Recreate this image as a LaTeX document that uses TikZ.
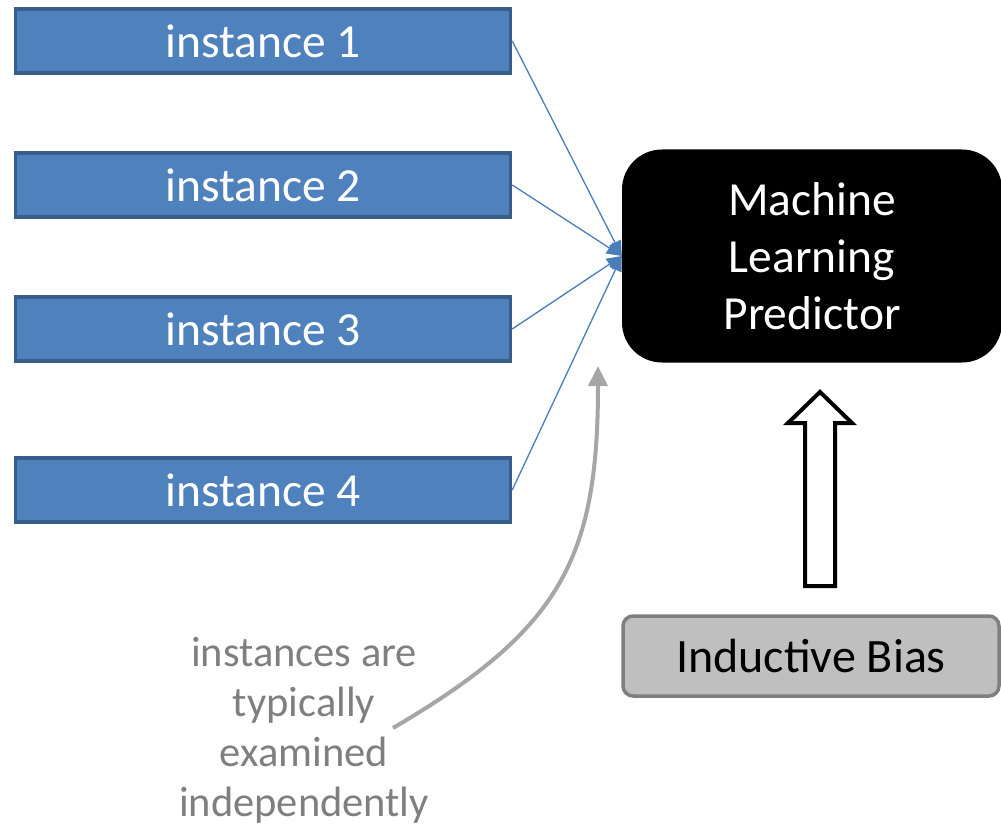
\documentclass[tikz,border=0pt]{standalone}
\usepackage{fontspec}
\setmainfont{Carlito}
\usetikzlibrary{arrows.meta}
\definecolor{instfill}{RGB}{79,129,189}
\definecolor{instline}{RGB}{56,93,138}
\definecolor{linkblue}{RGB}{74,126,187}
\definecolor{biasfill}{RGB}{191,191,191}
\definecolor{biasline}{RGB}{127,127,127}
\definecolor{notegray}{RGB}{127,127,127}
\definecolor{curvegray}{RGB}{166,166,166}
\tikzset{
  instbox/.style={draw=instline, fill=instfill, line width=3.5pt, minimum width=495pt, minimum height=64pt, inner sep=0pt, text=white, font=\fontsize{47.5}{57}\selectfont},
  predbox/.style={fill=black, rounded corners=40pt, minimum width=380pt, minimum height=213pt, inner sep=0pt, text=white, align=center, font=\fontsize{47.5}{57}\selectfont},
  biasbox/.style={draw=biasline, fill=biasfill, line width=3.5pt, rounded corners=10pt, minimum width=376pt, minimum height=80pt, inner sep=0pt, font=\fontsize{48}{57}\selectfont},
  link/.style={draw=linkblue, line width=1.3pt, -{Triangle[length=15pt,width=13pt]}},
}
\begin{document}
\begin{tikzpicture}[x=1pt,y=-1pt]
		\useasboundingbox (0,0) rectangle (1001,829);
		%instances on the left
		\node[instbox] (inst1) at (263,41) {instance 1};
		\node[instbox] (inst2) at (263,185) {instance 2};
		\node[instbox] (inst3) at (263,329) {instance 3};
		\node[instbox] (inst4) at (263,490) {instance 4};
		%predictor and bias
		\node[predbox] (pred) at (812,256) {Machine\\Learning\\Predictor};
		\node[biasbox] (bias) at (811,656) {Inductive Bias};
		%blue links into the predictor
		\draw[link] (inst1.east) -- (pred.west);
		\draw[link] (inst2.east) -- (pred.west);
		\draw[link] (inst3.east) -- (pred.west);
		\draw[link] (inst4.east) -- (pred.west);
		%hollow block arrow from bias up to predictor
		\draw[line width=4pt, fill=white, line join=miter] (805,586) -- (835,586) -- (835,423) -- (852,423) -- (820,392) -- (788,423) -- (805,423) -- cycle;
		%gray note and its curved arrow
		\node[text=notegray, align=center, font=\fontsize{42.5}{50}\selectfont] (note) at (304,730) {instances are\\typically\\examined\\independently};
		\coordinate (ntail) at (393,728);
		\coordinate (nhead) at (598,366);
		\draw[curvegray, line width=4pt, -{Triangle[length=20pt,width=19pt]}] (ntail) .. controls (560,630) and (598,560) .. (nhead);
	\end{tikzpicture}
\end{document}
